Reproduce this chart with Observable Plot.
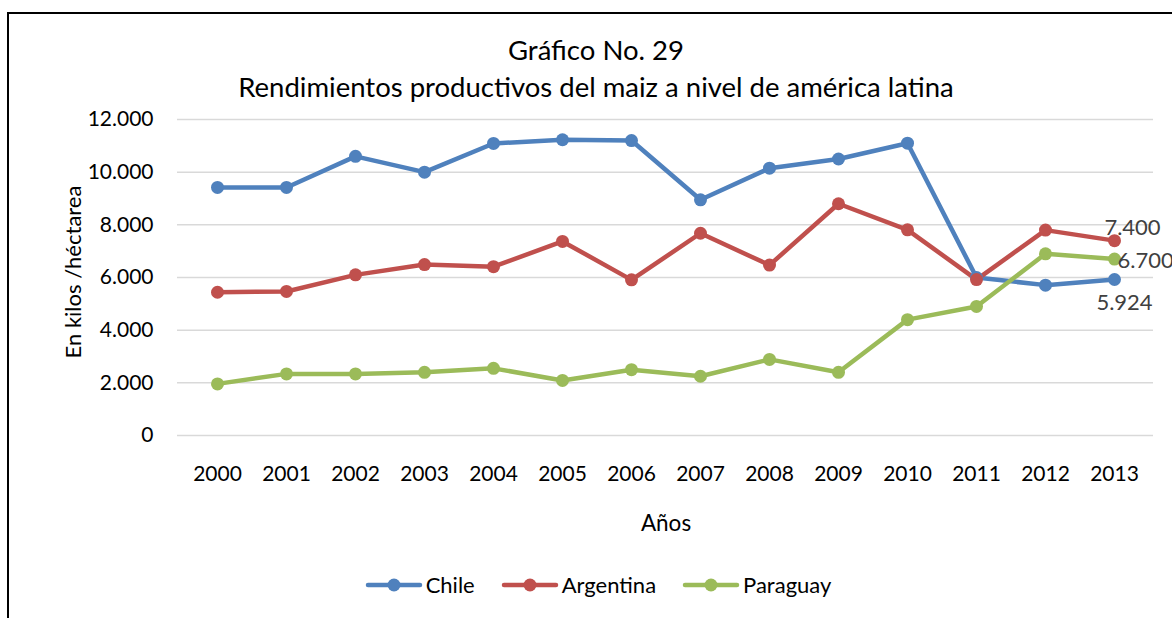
<!DOCTYPE html>
<html>
<head>
<meta charset="utf-8">
<script src="https://cdn.jsdelivr.net/npm/d3@7"></script>
<script src="https://cdn.jsdelivr.net/npm/@observablehq/plot@0.6"></script>
<style>
  html, body { margin: 0; padding: 0; background: #fff; }
  body { width: 1172px; height: 618px; overflow: hidden; position: relative; font-family: Lato, "Open Sans", sans-serif; }
  #frame { position: absolute; left: 7px; top: 12px; width: 1180px; height: 640px; border-left: 2px solid #000; border-top: 2px solid #000; box-sizing: border-box; }
  #chart { position: absolute; left: 0; top: 0; }
  .t { position: absolute; color: #000; white-space: nowrap; }
  #title { left: 0; width: 1192px; text-align: center; top: 31px; font-size: 27.5px; line-height: 37px; }
  #xlab { left: 0; width: 1332px; text-align: center; top: 509px; font-size: 22.5px; }
  #ylab { left: 72px; top: 272px; font-size: 22px; transform: translate(-50%, -50%) rotate(-90deg); }
  #legend { left: 0; width: 1196px; top: 571px; display: flex; justify-content: center; gap: 26px; font-size: 22px; }
  #legend .item { display: flex; align-items: center; gap: 3px; }
</style>
</head>
<body>
<div id="frame"></div>
<div id="chart"></div>
<div id="title" class="t">Gráfico No. 29<br>Rendimientos productivos del maiz a nivel de américa latina</div>
<div id="xlab" class="t">Años</div>
<div id="ylab" class="t">En kilos /héctarea</div>
<div id="legend" class="t"></div>
<script>
const years = [2000,2001,2002,2003,2004,2005,2006,2007,2008,2009,2010,2011,2012,2013];
const chile = [9420,9420,10600,10000,11090,11230,11200,8950,10150,10500,11100,6000,5710,5924];
const argentina = [5440,5470,6100,6490,6410,7370,5910,7680,6470,8800,7810,5920,7800,7400];
const paraguay = [1960,2340,2340,2400,2550,2090,2500,2250,2890,2400,4400,4900,6900,6700];
const seriesNames = ["Chile","Argentina","Paraguay"];
const seriesValues = [chile, argentina, paraguay];
const colors = ["#4f81bd","#c0504d","#9bbb59"];
const yTicks = [0,2000,4000,6000,8000,10000,12000];

const fmt = v => d3.format(",")(v).replace(/,/g, ".");

const rows = [];
seriesNames.forEach((s, i) => years.forEach((y, j) => rows.push({series: s, year: y, value: seriesValues[i][j]})));
const last = rows.filter(d => d.year === 2013);
const lab = name => last.filter(d => d.series === name);

const plot = Plot.plot({
  width: 1172,
  height: 618,
  marginLeft: 177,
  marginRight: 19,
  marginTop: 119,
  marginBottom: 183,
  style: {fontFamily: "Lato, 'Open Sans', sans-serif", fontSize: "21px", color: "#000", background: "transparent", overflow: "visible"},
  x: {type: "point", domain: years, padding: 0.5, label: null},
  y: {domain: [0, 12000], label: null},
  color: {domain: seriesNames, range: colors},
  marks: [
    Plot.ruleY(yTicks, {stroke: "#d9d9d9", strokeWidth: 1.5}),
    Plot.axisY({ticks: yTicks, tickFormat: fmt, tickSize: 0, tickPadding: 24, fontSize: 21, label: null}),
    Plot.axisX({tickSize: 0, tickPadding: 31, fontSize: 21, tickFormat: d => String(d), label: null}),
    Plot.line(rows, {x: "year", y: "value", z: "series", stroke: "series", strokeWidth: 4.5, strokeLinejoin: "round", strokeLinecap: "round"}),
    Plot.dot(rows, {x: "year", y: "value", fill: "series", r: 6.5, stroke: "none"}),
    Plot.text(lab("Argentina"), {x: "year", y: "value", text: d => fmt(d.value), dx: 18, dy: -13, fill: "#404040", fontSize: 22}),
    Plot.text(lab("Paraguay"), {x: "year", y: "value", text: d => fmt(d.value), textAnchor: "start", dx: 3, dy: 2, fill: "#404040", fontSize: 22}),
    Plot.text(lab("Chile"), {x: "year", y: "value", text: d => fmt(d.value), dx: 10, dy: 23, fill: "#404040", fontSize: 22})
  ]
});
document.getElementById("chart").appendChild(plot);

const legend = document.getElementById("legend");
seriesNames.forEach((s, i) => {
  const item = document.createElement("div");
  item.className = "item";
  item.innerHTML = `<svg width="58" height="16"><line x1="3" y1="8" x2="55" y2="8" stroke="${colors[i]}" stroke-width="4.5" stroke-linecap="round"/><circle cx="29" cy="8" r="6.5" fill="${colors[i]}"/></svg><span>${s}</span>`;
  legend.appendChild(item);
});
</script>
</body>
</html>
